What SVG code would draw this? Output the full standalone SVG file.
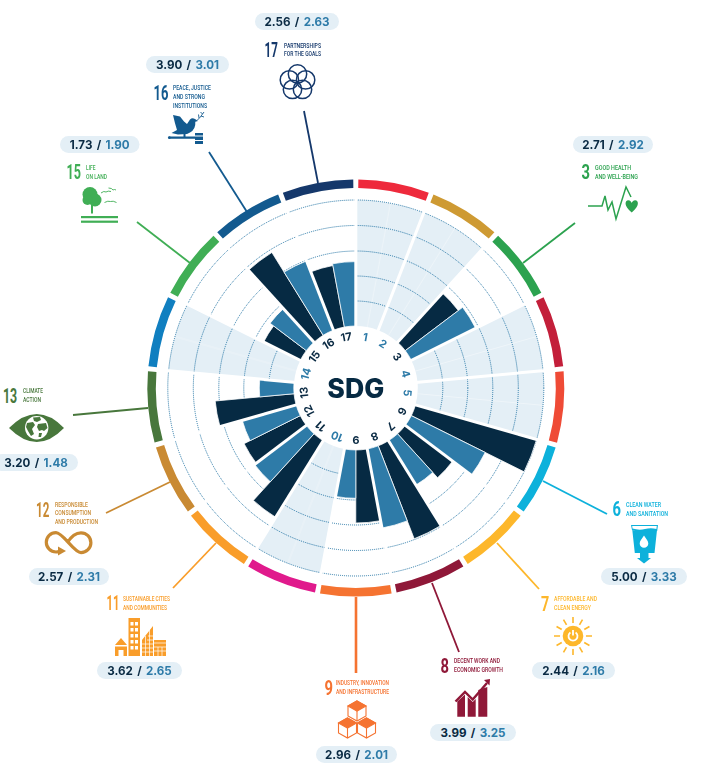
<svg xmlns="http://www.w3.org/2000/svg" xmlns:xlink="http://www.w3.org/1999/xlink" width="723" height="776" viewBox="0 0 723 776">
<style>
.f1{fill:#EE2A3C}.f2{fill:#CE9A33}.f3{fill:#2CA24F}.f4{fill:#C31F3A}.f5{fill:#EF4B36}.f6{fill:#0DB1DB}.f7{fill:#FDB72B}.f8{fill:#8F1838}.f9{fill:#F57331}.f10{fill:#E01A8C}.f11{fill:#F99D2A}.f12{fill:#C98A33}.f13{fill:#48773C}.f14{fill:#107FC0}.f15{fill:#40AE55}.f16{fill:#135A8F}.f17{fill:#15386B}
.s3{stroke:#2CA24F}.s6{stroke:#0DB1DB}.s7{stroke:#FDB72B}.s8{stroke:#8F1838}.s9{stroke:#F57331}.s11{stroke:#F99D2A}.s12{stroke:#C98A33}.s13{stroke:#48773C}.s15{stroke:#40AE55}.s16{stroke:#135A8F}.s17{stroke:#15386B}
.conn line{stroke-width:1.8;fill:none}
.pill{fill:#E4EFF6}
.val{font:700 11.6px Inter,"Open Sans",sans-serif;word-spacing:1.6px;text-anchor:middle;fill:#0A2A43}
.val tspan{fill:#2E7BA8}
.num{font:700 20px Roboto,"Liberation Sans",sans-serif}
.ttl{font:500 8px Roboto,"Liberation Sans",sans-serif}
.lab{font:700 11px Inter,"Open Sans",sans-serif;text-anchor:middle;fill:#0A2A43}
.lab.nd{fill:#2E7BA8}
.empty{fill:#E4EFF6}
.grid circle{fill:none;stroke:#2273A3;stroke-width:1;stroke-dasharray:1 1}
.d{fill:#062A43;stroke:#fff;stroke-width:.7}
.m{fill:#2E7BA8;stroke:#fff;stroke-width:.7}
.sep{stroke:#fff;stroke-width:3}
.mid{stroke:#fff;stroke-width:.6;opacity:.6}
.w{fill:#fff}
</style>
<defs>
<path id="seg" d="M0,-208.5A208.5,208.5 0 0 1 70.56,-196.2L67.68,-188.2A200,200 0 0 0 0,-200Z"/>
<path id="wedge" class="empty" d="M0,-62V-188A188,188 0 0 1 67.9,-175.3L22.4,-57.8A62,62 0 0 0 0,-62Z"/>
<line id="sp" class="sep" x1="0" y1="-60" x2="0" y2="-190"/>
<g id="cube" fill="#fff" stroke="#F57331" stroke-width="1.1"><path d="M0,-10L9,-5V5L0,10L-9,5V-5Z"/><path d="M0,-10L9,-5L0,0L-9,-5Z" fill="#F57331"/><path d="M0,0V10" fill="none"/></g>
</defs>

<g id="chart" transform="translate(355.8,388)">
<g id="empty-sectors">
<use href="#wedge"/>
<use href="#wedge" transform="rotate(21.18)"/>
<use href="#wedge" transform="rotate(63.53)"/>
<use href="#wedge" transform="rotate(84.71)"/>
<use href="#wedge" transform="rotate(190.59)"/>
<use href="#wedge" transform="rotate(275.29)"/>
<g class="mid"><line x1="0" y1="-62" x2="0" y2="-188" transform="rotate(10.59)"/><line x1="0" y1="-62" x2="0" y2="-188" transform="rotate(31.76)"/><line x1="0" y1="-62" x2="0" y2="-188" transform="rotate(74.12)"/><line x1="0" y1="-62" x2="0" y2="-188" transform="rotate(95.29)"/><line x1="0" y1="-62" x2="0" y2="-188" transform="rotate(201.18)"/><line x1="0" y1="-62" x2="0" y2="-188" transform="rotate(285.88)"/></g>
</g>
<g class="grid"><circle r="87"/><circle r="112"/><circle r="137"/><circle r="162.5"/><circle r="188"/></g>
<g id="bars">
<path class="d" transform="rotate(42.35)" d="M0,-62V-128.5A128.5,128.5 0 0 1 23.62,-126.32L11.4,-60.95A62,62 0 0 0 0,-62Z"/>
<path class="m" transform="rotate(52.94)" d="M0,-62V-133.9A133.9,133.9 0 0 1 24.61,-131.63L11.4,-60.95A62,62 0 0 0 0,-62Z"/>
<path class="d" transform="rotate(105.88)" d="M0,-62V-188A188,188 0 0 1 34.55,-184.8L11.4,-60.95A62,62 0 0 0 0,-62Z"/>
<path class="m" transform="rotate(116.47)" d="M0,-62V-144.6A144.6,144.6 0 0 1 26.58,-142.14L11.4,-60.95A62,62 0 0 0 0,-62Z"/>
<path class="d" transform="rotate(127.06)" d="M0,-62V-121.4A121.4,121.4 0 0 1 22.31,-119.34L11.4,-60.95A62,62 0 0 0 0,-62Z"/>
<path class="m" transform="rotate(137.65)" d="M0,-62V-114.2A114.2,114.2 0 0 1 20.99,-112.26L11.4,-60.95A62,62 0 0 0 0,-62Z"/>
<path class="d" transform="rotate(148.24)" d="M0,-62V-161.7A161.7,161.7 0 0 1 29.72,-158.95L11.4,-60.95A62,62 0 0 0 0,-62Z"/>
<path class="m" transform="rotate(158.83)" d="M0,-62V-142.5A142.5,142.5 0 0 1 26.19,-140.08L11.4,-60.95A62,62 0 0 0 0,-62Z"/>
<path class="d" transform="rotate(169.41)" d="M0,-62V-135A135,135 0 0 1 24.81,-132.71L11.4,-60.95A62,62 0 0 0 0,-62Z"/>
<path class="m" transform="rotate(180)" d="M0,-62V-110.3A110.3,110.3 0 0 1 20.27,-108.42L11.4,-60.95A62,62 0 0 0 0,-62Z"/>
<path class="d" transform="rotate(211.76)" d="M0,-62V-152.1A152.1,152.1 0 0 1 27.96,-149.51L11.4,-60.95A62,62 0 0 0 0,-62Z"/>
<path class="m" transform="rotate(222.35)" d="M0,-62V-126.9A126.9,126.9 0 0 1 23.32,-124.74L11.4,-60.95A62,62 0 0 0 0,-62Z"/>
<path class="d" transform="rotate(232.94)" d="M0,-62V-124.8A124.8,124.8 0 0 1 22.94,-122.68L11.4,-60.95A62,62 0 0 0 0,-62Z"/>
<path class="m" transform="rotate(243.53)" d="M0,-62V-118.1A118.1,118.1 0 0 1 21.71,-116.09L11.4,-60.95A62,62 0 0 0 0,-62Z"/>
<path class="d" transform="rotate(254.12)" d="M0,-62V-141.2A141.2,141.2 0 0 1 25.95,-138.8L11.4,-60.95A62,62 0 0 0 0,-62Z"/>
<path class="m" transform="rotate(264.71)" d="M0,-62V-96.5A96.5,96.5 0 0 1 17.74,-94.86L11.4,-60.95A62,62 0 0 0 0,-62Z"/>
<path class="d" transform="rotate(296.47)" d="M0,-62V-103A103,103 0 0 1 18.93,-101.25L11.4,-60.95A62,62 0 0 0 0,-62Z"/>
<path class="m" transform="rotate(307.06)" d="M0,-62V-107.4A107.4,107.4 0 0 1 19.74,-105.57L11.4,-60.95A62,62 0 0 0 0,-62Z"/>
<path class="d" transform="rotate(317.65)" d="M0,-62V-159.4A159.4,159.4 0 0 1 29.3,-156.69L11.4,-60.95A62,62 0 0 0 0,-62Z"/>
<path class="m" transform="rotate(328.24)" d="M0,-62V-136.3A136.3,136.3 0 0 1 25.05,-133.98L11.4,-60.95A62,62 0 0 0 0,-62Z"/>
<path class="d" transform="rotate(338.82)" d="M0,-62V-124.6A124.6,124.6 0 0 1 22.9,-122.48L11.4,-60.95A62,62 0 0 0 0,-62Z"/>
<path class="m" transform="rotate(349.41)" d="M0,-62V-126.4A126.4,126.4 0 0 1 23.23,-124.25L11.4,-60.95A62,62 0 0 0 0,-62Z"/>
</g>
<g id="separators">
<use href="#sp"/><use href="#sp" transform="rotate(21.18)"/><use href="#sp" transform="rotate(42.35)"/><use href="#sp" transform="rotate(63.53)"/><use href="#sp" transform="rotate(84.71)"/><use href="#sp" transform="rotate(105.88)"/><use href="#sp" transform="rotate(127.06)"/><use href="#sp" transform="rotate(148.24)"/><use href="#sp" transform="rotate(169.41)"/><use href="#sp" transform="rotate(190.59)"/><use href="#sp" transform="rotate(211.76)"/><use href="#sp" transform="rotate(232.94)"/><use href="#sp" transform="rotate(254.12)"/><use href="#sp" transform="rotate(275.29)"/><use href="#sp" transform="rotate(296.47)"/><use href="#sp" transform="rotate(317.65)"/><use href="#sp" transform="rotate(338.82)"/>
</g>
<g id="ring">
<use href="#seg" class="f1" transform="rotate(.7)"/>
<use href="#seg" class="f2" transform="rotate(21.88)"/>
<use href="#seg" class="f3" transform="rotate(43.05)"/>
<use href="#seg" class="f4" transform="rotate(64.23)"/>
<use href="#seg" class="f5" transform="rotate(85.41)"/>
<use href="#seg" class="f6" transform="rotate(106.58)"/>
<use href="#seg" class="f7" transform="rotate(127.76)"/>
<use href="#seg" class="f8" transform="rotate(148.94)"/>
<use href="#seg" class="f9" transform="rotate(170.11)"/>
<use href="#seg" class="f10" transform="rotate(191.29)"/>
<use href="#seg" class="f11" transform="rotate(212.46)"/>
<use href="#seg" class="f12" transform="rotate(233.64)"/>
<use href="#seg" class="f13" transform="rotate(254.82)"/>
<use href="#seg" class="f14" transform="rotate(275.99)"/>
<use href="#seg" class="f15" transform="rotate(297.17)"/>
<use href="#seg" class="f16" transform="rotate(318.35)"/>
<use href="#seg" class="f17" transform="rotate(339.52)"/>
</g>
<circle r="61" fill="#fff"/>
<g id="sector-labels">
<text class="lab nd" y="-48" transform="rotate(10.59)">1</text>
<text class="lab nd" y="-48" transform="rotate(31.76)">2</text>
<text class="lab" y="-48" transform="rotate(52.94)">3</text>
<text class="lab nd" y="-48" transform="rotate(74.12)">4</text>
<text class="lab nd" y="-48" transform="rotate(95.29)">5</text>
<text class="lab" y="-48" transform="rotate(116.47)">6</text>
<text class="lab" y="-48" transform="rotate(137.65)">7</text>
<text class="lab" y="-48" transform="rotate(158.82)">8</text>
<text class="lab" y="-48" transform="rotate(180)">9</text>
<text class="lab nd" y="-48" transform="rotate(201.18)">10</text>
<text class="lab" y="-48" transform="rotate(222.35)">11</text>
<text class="lab" y="-48" transform="rotate(243.53)">12</text>
<text class="lab" y="-48" transform="rotate(264.71)">13</text>
<text class="lab nd" y="-48" transform="rotate(285.88)">14</text>
<text class="lab" y="-48" transform="rotate(307.06)">15</text>
<text class="lab" y="-48" transform="rotate(328.24)">16</text>
<text class="lab" y="-48" transform="rotate(349.41)">17</text>
</g>
<text x="0" y="9.7" text-anchor="middle" textLength="57" lengthAdjust="spacingAndGlyphs" style="font:800 26.5px Inter,'Open Sans',sans-serif;fill:#062A43">SDG</text>
</g>

<g class="conn" id="connectors">
<line class="s3" x1="575" y1="223" x2="523" y2="263"/>
<line class="s6" x1="543" y1="481" x2="607" y2="514"/>
<line class="s7" x1="497" y1="543" x2="539" y2="589"/>
<line class="s8" x1="432" y1="583" x2="459" y2="652"/>
<line class="s9" x1="356" y1="597" x2="356" y2="673" style="stroke-width:2.6"/>
<line class="s11" x1="216" y1="543" x2="173" y2="588"/>
<line class="s12" x1="170" y1="482" x2="106" y2="513"/>
<line class="s13" x1="148" y1="408" x2="73" y2="415"/>
<line class="s15" x1="190" y1="263" x2="137" y2="222"/>
<line class="s16" x1="247" y1="212" x2="209" y2="152"/>
<line class="s17" x1="318" y1="183" x2="304" y2="111"/>
</g>

<g id="sdg3">
<rect class="pill" x="573" y="136" width="80" height="17" rx="8.5"/>
<text class="val" x="613" y="149">2.71 / <tspan>2.92</tspan></text>
<text class="num f3" transform="translate(581.5,179) scale(.74,1)">3</text>
<text class="ttl f3" x="595" y="169.5" textLength="36" lengthAdjust="spacingAndGlyphs">GOOD HEALTH</text>
<text class="ttl f3" x="595" y="178.5" textLength="43" lengthAdjust="spacingAndGlyphs">AND WELL-BEING</text>
<path class="s3" fill="none" stroke-width="1.5" d="M588,206H602L605,196L608,210L612,202L616,219L626,187L631,197"/>
<path class="f3" d="M631.7,212.5C623.5,206 624.8,200.3 628.3,200.3C630.3,200.3 631.2,201.8 631.7,203C632.2,201.8 633.2,200.3 635.2,200.3C638.7,200.3 640,206 631.7,212.5Z"/>
</g>

<g id="sdg6">
<rect class="pill" x="601" y="568" width="86" height="17" rx="8.5"/>
<text class="val" x="644" y="581">5.00 / <tspan>3.33</tspan></text>
<text class="num f6" transform="translate(612.5,515.5) scale(.74,1)">6</text>
<text class="ttl f6" x="626" y="506.7" textLength="35" lengthAdjust="spacingAndGlyphs">CLEAN WATER</text>
<text class="ttl f6" x="626" y="515.5" textLength="42" lengthAdjust="spacingAndGlyphs">AND SANITATION</text>
<path class="f6" d="M631,525H658L657.2,531Q651,529 645,531T632,530Z"/>
<path class="w" d="M632.2,526H656.8L656.4,529Q651,527.5 645,529T632.5,528.5Z"/>
<path class="f6" d="M632.3,530Q639,532 645,530T657,530L654.5,553H648.5V558H651L644,563.5L637,558H640V553H634.8Z"/>
<path class="w" d="M644,535.5C646,538.5 648.3,541 648.3,543.5A4.3,4.3 0 0 1 639.7,543.5C639.7,541 642,538.5 644,535.5Z"/>
</g>

<g id="sdg7">
<rect class="pill" x="532" y="662" width="83" height="17" rx="8.5"/>
<text class="val" x="573.5" y="675">2.44 / <tspan>2.16</tspan></text>
<text class="num f7" transform="translate(541,611) scale(.72,1)">7</text>
<text class="ttl f7" x="554" y="600.7" textLength="43" lengthAdjust="spacingAndGlyphs">AFFORDABLE AND</text>
<text class="ttl f7" x="554" y="609.7" textLength="37" lengthAdjust="spacingAndGlyphs">CLEAN ENERGY</text>
<g transform="translate(573,636)">
<g class="s7" stroke-width="1.6"><line x1="-19" y1="0" x2="19" y2="0"/><line x1="0" y1="-19" x2="0" y2="19"/><line x1="-16.45" y1="-9.5" x2="16.45" y2="9.5"/><line x1="-16.45" y1="9.5" x2="16.45" y2="-9.5"/><line x1="-9.5" y1="-16.45" x2="9.5" y2="16.45"/><line x1="-9.5" y1="16.45" x2="9.5" y2="-16.45"/></g>
<circle class="w" r="13"/><circle class="f7" r="10.3"/>
<path fill="none" stroke="#fff" stroke-width="1.8" d="M-2.6,-3.6A4.5,4.5 0 1 0 2.6,-3.6M0,-6V-0.5"/>
</g>
</g>

<g id="sdg8">
<rect class="pill" x="430" y="724" width="86" height="17" rx="8.5"/>
<text class="val" x="473" y="737">3.99 / <tspan>3.25</tspan></text>
<text class="num f8" transform="translate(440.5,673) scale(.74,1)">8</text>
<text class="ttl f8" x="454" y="662.7" textLength="46" lengthAdjust="spacingAndGlyphs">DECENT WORK AND</text>
<text class="ttl f8" x="454" y="671.7" textLength="49" lengthAdjust="spacingAndGlyphs">ECONOMIC GROWTH</text>
<path class="f8" d="M457.3,716.7V701.5L465,694.5V716.7ZM467.7,716.7V697L472.7,702L475.7,699V716.7ZM478.3,716.7V690L487.3,687V716.7Z"/>
<path class="s8" fill="none" stroke-width="2.4" d="M455.5,701.5L465,692L472.7,699.5L487,683"/>
<path class="f8" d="M484,680L490,679L489.5,685.5Z"/>
</g>

<g id="sdg9">
<rect class="pill" x="316" y="746" width="81" height="17" rx="8.5"/>
<text class="val" x="356.5" y="759">2.96 / <tspan>2.01</tspan></text>
<text class="num f9" transform="translate(324.5,694.5) scale(.74,1)">9</text>
<text class="ttl f9" x="336" y="685" textLength="53" lengthAdjust="spacingAndGlyphs">INDUSTRY, INNOVATION</text>
<text class="ttl f9" x="336" y="693.7" textLength="53" lengthAdjust="spacingAndGlyphs">AND INFRASTRUCTURE</text>
<use href="#cube" x="357" y="711"/>
<use href="#cube" x="347.5" y="728"/>
<use href="#cube" x="366.5" y="728"/>
</g>

<g id="sdg11">
<rect class="pill" x="97" y="662" width="85" height="17" rx="8.5"/>
<text class="val" x="139.5" y="675">3.62 / <tspan>2.65</tspan></text>
<text class="num f11" transform="translate(106.5,610) scale(.56,1)">11</text>
<text class="ttl f11" x="123" y="601" textLength="47" lengthAdjust="spacingAndGlyphs">SUSTAINABLE CITIES</text>
<text class="ttl f11" x="123" y="609.7" textLength="44" lengthAdjust="spacingAndGlyphs">AND COMMUNITIES</text>
<path class="f11" d="M115,645L121,638L127,645ZM115,646.5H127V656H123.5V650H118.5V656H115ZM128.5,618H140V656H128.5ZM142,640L153,626V656H142ZM154,640H166V656H154Z"/>
<g class="w"><rect x="130.5" y="622" width="3" height="3.5"/><rect x="135" y="622" width="3" height="3.5"/><rect x="130.5" y="628" width="3" height="3.5"/><rect x="135" y="628" width="3" height="3.5"/><rect x="130.5" y="634" width="3" height="3.5"/><rect x="135" y="634" width="3" height="3.5"/><rect x="130.5" y="640" width="3" height="3.5"/><rect x="135" y="640" width="3" height="3.5"/><rect x="130.5" y="646" width="3" height="3.5"/><rect x="135" y="646" width="3" height="3.5"/></g>
<g stroke="#fff" stroke-width=".7"><line x1="142" y1="644" x2="153" y2="644"/><line x1="142" y1="648" x2="153" y2="648"/><line x1="142" y1="652" x2="153" y2="652"/><line x1="145.5" y1="636" x2="145.5" y2="656"/><line x1="149.5" y1="630" x2="149.5" y2="656"/><line x1="148" y1="636" x2="153" y2="636"/><line x1="147" y1="640" x2="153" y2="640"/><line x1="154" y1="643" x2="166" y2="643"/><line x1="154" y1="647" x2="166" y2="647"/><line x1="154" y1="651" x2="166" y2="651"/><line x1="158" y1="647" x2="158" y2="656"/><line x1="162" y1="647" x2="162" y2="656"/></g>
</g>

<g id="sdg12">
<rect class="pill" x="29" y="568" width="80" height="17" rx="8.5"/>
<text class="val" x="69" y="581">2.57 / <tspan>2.31</tspan></text>
<text class="num f12" transform="translate(36,516.5) scale(.58,1)">12</text>
<text class="ttl f12" x="55" y="506.7" textLength="33" lengthAdjust="spacingAndGlyphs">RESPONSIBLE</text>
<text class="ttl f12" x="55" y="515.3" textLength="36" lengthAdjust="spacingAndGlyphs">CONSUMPTION</text>
<text class="ttl f12" x="55" y="524" textLength="43" lengthAdjust="spacingAndGlyphs">AND PRODUCTION</text>
<path class="s12" fill="none" stroke-width="3.2" d="M59,551.5C57.5,552 56.8,552 56,552A9.7,9.7 0 0 1 56,532.6C63,532.6 74,552.6 81,552.6A9.9,9.9 0 0 0 81,532.8C74,532.8 69.5,539 67,543"/>
<path class="f12" d="M58,546.5L66,551L58,555.5Z"/>
</g>

<g id="sdg13">
<rect class="pill" x="-6" y="454" width="84" height="17" rx="8.5"/>
<text class="val" x="36" y="467">3.20 / <tspan>1.48</tspan></text>
<text class="num f13" transform="translate(3,402.5) scale(.62,1)">13</text>
<text class="ttl f13" x="23" y="393" textLength="20" lengthAdjust="spacingAndGlyphs">CLIMATE</text>
<text class="ttl f13" x="23" y="401.7" textLength="18" lengthAdjust="spacingAndGlyphs">ACTION</text>
<path class="f13" d="M9,428Q37,400 64,428Q37,456 9,428Z"/>
<circle class="w" cx="36.7" cy="427.7" r="11.7"/>
<path class="f13" d="M33,417.5L40,417L41,420L37,422L34,421ZM27,423L33,422L35,425L32,429L34,434L31,436L28,431L26,427ZM38,424L46,423L47.5,428L44,431L42,430L39,431L37,427ZM39,433L42,433L41,437L38.5,437Z"/>
</g>

<g id="sdg15">
<rect class="pill" x="60" y="136" width="79.5" height="17" rx="8.5"/>
<text class="val" x="99.7" y="149">1.73 / <tspan>1.90</tspan></text>
<text class="num f15" transform="translate(66.5,179) scale(.63,1)">15</text>
<text class="ttl f15" x="86" y="170" textLength="9.5" lengthAdjust="spacingAndGlyphs">LIFE</text>
<text class="ttl f15" x="86" y="178.7" textLength="21" lengthAdjust="spacingAndGlyphs">ON LAND</text>
<g class="f15"><circle cx="90" cy="194.5" r="7.5"/><circle cx="95" cy="200" r="6.5"/><circle cx="87.5" cy="200" r="5"/><rect x="91" y="205" width="2" height="8.5"/><rect x="81" y="216" width="37" height="2.2"/><rect x="81" y="220.6" width="37" height="2.2"/></g>
<path class="s15" fill="none" stroke-width=".9" d="M101,193Q104,190.5 106,192Q108,190.5 111,191.5M108.5,188Q112,188 113,190Q114.5,189 116,190M104.5,202.5Q108,200.5 110.5,201.5Q113,200.5 116.5,202.5"/>
</g>

<g id="sdg16">
<rect class="pill" x="146" y="56" width="83" height="17" rx="8.5"/>
<text class="val" x="187.5" y="69">3.90 / <tspan>3.01</tspan></text>
<text class="num f16" transform="translate(153.5,99.5) scale(.65,1)">16</text>
<text class="ttl f16" x="173" y="90" textLength="38" lengthAdjust="spacingAndGlyphs">PEACE, JUSTICE</text>
<text class="ttl f16" x="173" y="98.7" textLength="32" lengthAdjust="spacingAndGlyphs">AND STRONG</text>
<text class="ttl f16" x="173" y="107.7" textLength="34" lengthAdjust="spacingAndGlyphs">INSTITUTIONS</text>
<path class="f16" d="M173,115L180,116.5L184,121.5L187,124L190,119.5Q192,117.5 195,119L198,121L195.3,121.7Q196,129 190,132.5L187,134L178,134.5L171.5,133L177,130Q175,124 173,115Z"/>
<path class="s16" fill="none" stroke-width=".9" d="M197,120.5Q200,118 204,112M199,118L198.5,114.5M201,116L204,117M202.5,114L200.5,112"/>
<path class="f16" d="M183.5,133H185.5V137H183.5ZM169,136.6H195V138.8H169ZM195,133H203V135.5H195ZM195,136.5H203V140H195ZM195,141H203V144H195Z"/>
<circle class="f16" cx="169.3" cy="137.7" r="1.4"/>
</g>

<g id="sdg17">
<rect class="pill" x="255" y="13" width="84" height="17" rx="8.5"/>
<text class="val" x="297" y="26">2.56 / <tspan>2.63</tspan></text>
<text class="num f17" transform="translate(264.5,57) scale(.58,1)">17</text>
<text class="ttl f17" x="284" y="47.5" textLength="37" lengthAdjust="spacingAndGlyphs">PARTNERSHIPS</text>
<text class="ttl f17" x="284" y="56.2" textLength="37" lengthAdjust="spacingAndGlyphs">FOR THE GOALS</text>
<g class="s17" fill="none" stroke-width="1.5" transform="translate(297.5,82.5)"><circle cy="-8.5" r="9.2"/><circle cx="8.1" cy="-2.6" r="9.2"/><circle cx="5" cy="6.9" r="9.2"/><circle cx="-5" cy="6.9" r="9.2"/><circle cx="-8.1" cy="-2.6" r="9.2"/></g>
</g>
</svg>
